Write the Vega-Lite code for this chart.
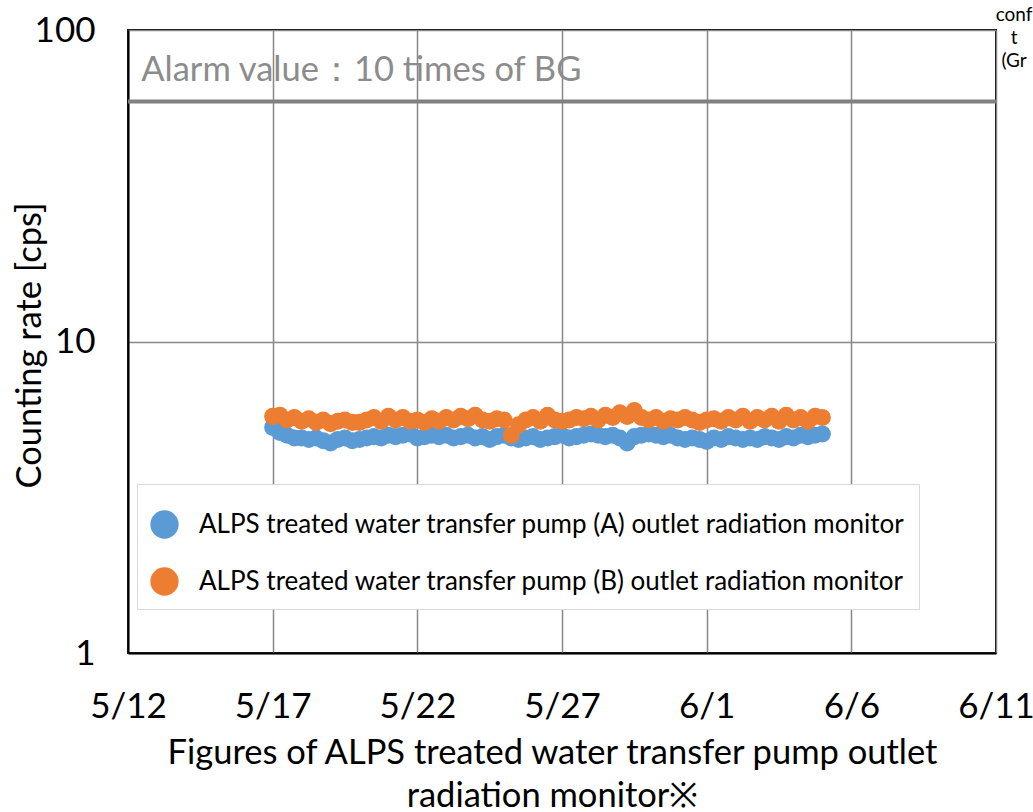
{
  "$schema": "https://vega.github.io/schema/vega-lite/v6.json",
  "width": 868,
  "height": 623,
  "autosize": {"type": "none"},
  "padding": {"left": 128, "top": 30, "right": 37, "bottom": 159},
  "background": "white",
  "config": {
    "font": "Lato",
    "view": {"stroke": "black", "strokeWidth": 2},
    "axis": {"labelFont": "Lato", "titleFont": "Lato", "labelColor": "black", "titleColor": "black", "titleFontWeight": "normal", "ticks": false, "domainColor": "black", "domainWidth": 2, "gridColor": "#888888", "gridWidth": 1.5, "gridOpacity": 1}
  },
  "datasets": {
    "readings": [
      {"t": "2024-05-17T00:00:00Z", "A": 5.3, "B": 5.75},
      {"t": "2024-05-17T06:00:00Z", "A": 5.1, "B": 5.8},
      {"t": "2024-05-17T12:00:00Z", "A": 5.0, "B": 5.6},
      {"t": "2024-05-17T18:00:00Z", "A": 4.9, "B": 5.7},
      {"t": "2024-05-18T00:00:00Z", "A": 4.9, "B": 5.55},
      {"t": "2024-05-18T06:00:00Z", "A": 4.85, "B": 5.65},
      {"t": "2024-05-18T12:00:00Z", "A": 4.9, "B": 5.5},
      {"t": "2024-05-18T18:00:00Z", "A": 4.8, "B": 5.6},
      {"t": "2024-05-19T00:00:00Z", "A": 4.72, "B": 5.45},
      {"t": "2024-05-19T06:00:00Z", "A": 4.85, "B": 5.55},
      {"t": "2024-05-19T12:00:00Z", "A": 4.9, "B": 5.6},
      {"t": "2024-05-19T18:00:00Z", "A": 4.8, "B": 5.5},
      {"t": "2024-05-20T00:00:00Z", "A": 4.85, "B": 5.5},
      {"t": "2024-05-20T06:00:00Z", "A": 4.9, "B": 5.6},
      {"t": "2024-05-20T12:00:00Z", "A": 4.95, "B": 5.7},
      {"t": "2024-05-20T18:00:00Z", "A": 4.9, "B": 5.55},
      {"t": "2024-05-21T00:00:00Z", "A": 5.0, "B": 5.75},
      {"t": "2024-05-21T06:00:00Z", "A": 4.95, "B": 5.6},
      {"t": "2024-05-21T12:00:00Z", "A": 5.0, "B": 5.7},
      {"t": "2024-05-21T18:00:00Z", "A": 5.05, "B": 5.55},
      {"t": "2024-05-22T00:00:00Z", "A": 4.9, "B": 5.6},
      {"t": "2024-05-22T06:00:00Z", "A": 4.95, "B": 5.5},
      {"t": "2024-05-22T12:00:00Z", "A": 5.0, "B": 5.65},
      {"t": "2024-05-22T18:00:00Z", "A": 4.95, "B": 5.55},
      {"t": "2024-05-23T00:00:00Z", "A": 5.0, "B": 5.7},
      {"t": "2024-05-23T06:00:00Z", "A": 4.9, "B": 5.6},
      {"t": "2024-05-23T12:00:00Z", "A": 4.95, "B": 5.75},
      {"t": "2024-05-23T18:00:00Z", "A": 5.0, "B": 5.65},
      {"t": "2024-05-24T00:00:00Z", "A": 4.9, "B": 5.8},
      {"t": "2024-05-24T06:00:00Z", "A": 4.95, "B": 5.6},
      {"t": "2024-05-24T12:00:00Z", "A": 4.85, "B": 5.55},
      {"t": "2024-05-24T18:00:00Z", "A": 4.95, "B": 5.65},
      {"t": "2024-05-25T00:00:00Z", "A": 5.0, "B": 5.6},
      {"t": "2024-05-25T06:00:00Z", "A": 4.9, "B": 5.0},
      {"t": "2024-05-25T12:00:00Z", "A": 4.85, "B": 5.4},
      {"t": "2024-05-25T18:00:00Z", "A": 4.9, "B": 5.6},
      {"t": "2024-05-26T00:00:00Z", "A": 4.95, "B": 5.7},
      {"t": "2024-05-26T06:00:00Z", "A": 4.85, "B": 5.55},
      {"t": "2024-05-26T12:00:00Z", "A": 4.9, "B": 5.8},
      {"t": "2024-05-26T18:00:00Z", "A": 4.95, "B": 5.6},
      {"t": "2024-05-27T00:00:00Z", "A": 5.0, "B": 5.55},
      {"t": "2024-05-27T06:00:00Z", "A": 4.9, "B": 5.6},
      {"t": "2024-05-27T12:00:00Z", "A": 4.95, "B": 5.7},
      {"t": "2024-05-27T18:00:00Z", "A": 5.0, "B": 5.65},
      {"t": "2024-05-28T00:00:00Z", "A": 5.05, "B": 5.75},
      {"t": "2024-05-28T06:00:00Z", "A": 5.0, "B": 5.6},
      {"t": "2024-05-28T12:00:00Z", "A": 4.95, "B": 5.8},
      {"t": "2024-05-28T18:00:00Z", "A": 5.0, "B": 5.7},
      {"t": "2024-05-29T00:00:00Z", "A": 4.9, "B": 5.9},
      {"t": "2024-05-29T06:00:00Z", "A": 4.72, "B": 5.75},
      {"t": "2024-05-29T12:00:00Z", "A": 4.95, "B": 6.0},
      {"t": "2024-05-29T18:00:00Z", "A": 5.0, "B": 5.7},
      {"t": "2024-05-30T00:00:00Z", "A": 5.05, "B": 5.6},
      {"t": "2024-05-30T06:00:00Z", "A": 5.0, "B": 5.7},
      {"t": "2024-05-30T12:00:00Z", "A": 4.95, "B": 5.55},
      {"t": "2024-05-30T18:00:00Z", "A": 5.0, "B": 5.65},
      {"t": "2024-05-31T00:00:00Z", "A": 4.9, "B": 5.6},
      {"t": "2024-05-31T06:00:00Z", "A": 4.85, "B": 5.7},
      {"t": "2024-05-31T12:00:00Z", "A": 4.9, "B": 5.6},
      {"t": "2024-05-31T18:00:00Z", "A": 4.85, "B": 5.5},
      {"t": "2024-06-01T00:00:00Z", "A": 4.78, "B": 5.6},
      {"t": "2024-06-01T06:00:00Z", "A": 4.9, "B": 5.65},
      {"t": "2024-06-01T12:00:00Z", "A": 4.85, "B": 5.55},
      {"t": "2024-06-01T18:00:00Z", "A": 4.95, "B": 5.7},
      {"t": "2024-06-02T00:00:00Z", "A": 4.9, "B": 5.6},
      {"t": "2024-06-02T06:00:00Z", "A": 4.85, "B": 5.75},
      {"t": "2024-06-02T12:00:00Z", "A": 4.9, "B": 5.55},
      {"t": "2024-06-02T18:00:00Z", "A": 4.85, "B": 5.7},
      {"t": "2024-06-03T00:00:00Z", "A": 4.95, "B": 5.6},
      {"t": "2024-06-03T06:00:00Z", "A": 4.9, "B": 5.75},
      {"t": "2024-06-03T12:00:00Z", "A": 4.85, "B": 5.55},
      {"t": "2024-06-03T18:00:00Z", "A": 4.95, "B": 5.8},
      {"t": "2024-06-04T00:00:00Z", "A": 4.9, "B": 5.6},
      {"t": "2024-06-04T06:00:00Z", "A": 5.0, "B": 5.7},
      {"t": "2024-06-04T12:00:00Z", "A": 4.95, "B": 5.55},
      {"t": "2024-06-04T18:00:00Z", "A": 5.0, "B": 5.75},
      {"t": "2024-06-05T00:00:00Z", "A": 5.05, "B": 5.7}
    ]
  },
  "layer": [
    {
      "data": {"values": [{"alarm": 59}]},
      "mark": {"type": "rule", "color": "#808080", "strokeWidth": 4},
      "encoding": {"y": {"field": "alarm", "type": "quantitative"}}
    },
    {
      "data": {"values": [{"note": "Alarm value：10 times of BG"}]},
      "mark": {"type": "text", "align": "left", "baseline": "middle", "fontSize": 34.5, "color": "#8c8c8c", "font": "Lato"},
      "encoding": {
        "text": {"field": "note"},
        "x": {"datum": {"year": 2024, "month": 5, "date": 12, "hours": 11, "utc": true}, "type": "temporal"},
        "y": {"datum": 74, "type": "quantitative"}
      }
    },
    {
      "data": {"values": [{"note": ["conf", "t", "(Gr"]}]},
      "mark": {"type": "text", "align": "center", "baseline": "top", "fontSize": 19, "lineHeight": 23, "color": "black", "font": "Lato"},
      "encoding": {
        "text": {"field": "note"},
        "x": {"datum": {"year": 2024, "month": 6, "date": 11, "hours": 15, "utc": true}, "type": "temporal"},
        "y": {"datum": 119, "type": "quantitative"}
      }
    },
    {
      "data": {"name": "readings"},
      "transform": [{"fold": ["A", "B"], "as": ["series", "cps"]}],
      "mark": {"type": "point", "filled": true, "opacity": 1, "size": 290, "shape": "circle"},
      "encoding": {
        "x": {
          "field": "t", "type": "temporal",
          "scale": {"type": "utc", "domain": [{"year": 2024, "month": 5, "date": 12, "utc": true}, {"year": 2024, "month": 6, "date": 11, "utc": true}]},
          "axis": {
            "values": [
              {"year": 2024, "month": 5, "date": 12, "utc": true},
              {"year": 2024, "month": 5, "date": 17, "utc": true},
              {"year": 2024, "month": 5, "date": 22, "utc": true},
              {"year": 2024, "month": 5, "date": 27, "utc": true},
              {"year": 2024, "month": 6, "date": 1, "utc": true},
              {"year": 2024, "month": 6, "date": 6, "utc": true},
              {"year": 2024, "month": 6, "date": 11, "utc": true}
            ],
            "labelExpr": "utcFormat(datum.value, '%-m/%-d')",
            "labelFontSize": 35, "labelPadding": 36, "labelFlush": false, "labelOverlap": false,
            "grid": true,
            "title": ["Figures of ALPS treated water transfer pump outlet", "radiation monitor※"],
            "titleFontSize": 34.5, "titleLineHeight": 43, "titleX": 424, "titleY": 83, "titleBaseline": "top", "titleAlign": "center", "titleAnchor": "middle"
          }
        },
        "y": {
          "field": "cps", "type": "quantitative",
          "scale": {"type": "log", "domain": [1, 100], "nice": false},
          "axis": {
            "values": [1, 10, 100], "format": "d",
            "labelFontSize": 35, "labelPadding": 33, "labelFlush": false, "labelOverlap": false,
            "grid": true,
            "title": "Counting rate [cps]", "titleFontSize": 34.5, "titleAngle": -90, "titleX": -98, "titleY": 315, "titleBaseline": "middle", "titleAlign": "center"
          }
        },
        "color": {
          "field": "series", "type": "nominal",
          "scale": {"domain": ["A", "B"], "range": ["#5B9BD5", "#ED7D31"]},
          "legend": {
            "orient": "none", "legendX": 9, "legendY": 454, "title": " ", "titleFontSize": 10, "titlePadding": 3,
            "symbolType": "circle", "symbolSize": 800, "symbolOpacity": 1, "symbolStrokeWidth": 0,
            "labelFont": "Lato", "labelFontSize": 26, "labelColor": "black", "labelLimit": 1000, "labelOffset": 20,
            "labelExpr": "datum.label == 'A' ? 'ALPS treated water transfer pump (A) outlet radiation monitor' : 'ALPS treated water transfer pump (B) outlet radiation monitor'",
            "rowPadding": 28, "padding": 13, "strokeColor": "#d9d9d9", "fillColor": "white"
          }
        },
        "order": {"field": "series", "type": "nominal"}
      }
    }
  ]
}
